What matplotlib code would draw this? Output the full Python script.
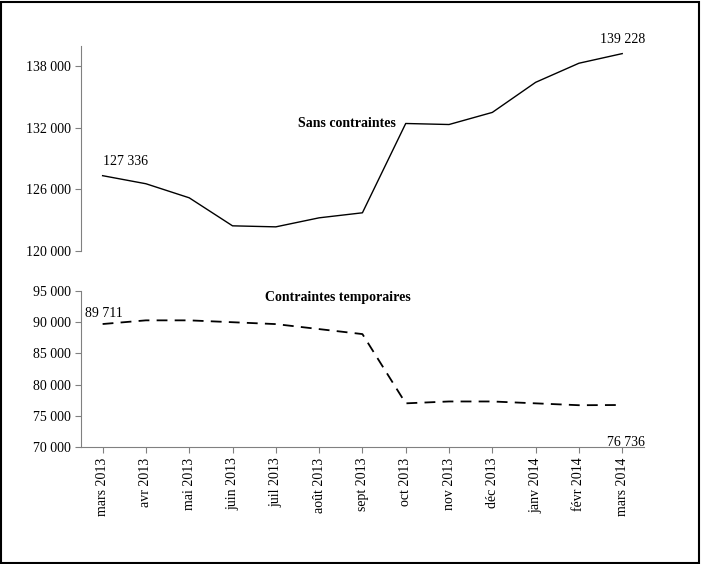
import matplotlib.pyplot as plt
from matplotlib.patches import Rectangle
from matplotlib.ticker import FuncFormatter

months = ["mars 2013", "avr 2013", "mai 2013", "juin 2013", "juil 2013", "août 2013",
          "sept 2013", "oct 2013", "nov 2013", "déc 2013", "janv 2014", "févr 2014", "mars 2014"]
sans = [127336, 126550, 125180, 122450, 122350, 123230, 123720,
        132420, 132320, 133500, 136430, 138290, 139228]
temp = [89711, 90300, 90300, 90000, 89700, 88900, 88100,
        77000, 77300, 77300, 77000, 76700, 76736]

plt.rcParams['font.family'] = ['Liberation Serif', 'DejaVu Serif']
fmt = FuncFormatter(lambda v, p: "{:,.0f}".format(v).replace(",", " "))

fig = plt.figure(figsize=(7.01, 5.64), dpi=100)
fig.patches.append(Rectangle((0.002, 0.002), 0.995, 0.995, transform=fig.transFigure,
                             fill=False, edgecolor="black", linewidth=1.5))

x = list(range(len(months)))
ax1 = fig.add_axes([0.1155, 0.555, 0.803, 0.364])
ax2 = fig.add_axes([0.1155, 0.2074, 0.803, 0.2766])

ax1.plot(x, sans, color="black", linewidth=1)
ax1.set_ylim(120000, 140000)
ax1.set_yticks([120000, 126000, 132000, 138000])
ax1.text(0, sans[0] + 700, "127 336", ha="left", va="bottom", fontsize=10)
ax1.text(12, sans[-1] + 700, "139 228", ha="center", va="bottom", fontsize=10)
ax1.text(5.65, 132400, "Sans contraintes", ha="center", va="center", fontsize=10, fontweight="bold")

ax2.plot(x, temp, color="black", linewidth=1.3, linestyle=(0, (6, 4)))
ax2.set_ylim(70000, 95000)
ax2.set_yticks(range(70000, 95001, 5000))
ax2.text(-0.4, temp[0] + 700, "89 711", ha="left", va="bottom", fontsize=10)
ax2.text(11.64, 70800, "76 736", ha="left", va="center", fontsize=10)
ax2.text(5.43, 94000, "Contraintes temporaires", ha="center", va="center", fontsize=10, fontweight="bold")
ax2.set_xticks(x)
ax2.set_xticklabels(months, rotation=90, fontsize=10)

for ax in (ax1, ax2):
    ax.set_xlim(-0.5, 12.5)
    ax.yaxis.set_major_formatter(fmt)
    ax.tick_params(axis="y", labelsize=10, color="gray", length=4)
    for s in ("top", "right"):
        ax.spines[s].set_visible(False)
    ax.spines["left"].set_color("gray")
    ax.spines["bottom"].set_color("gray")
ax1.spines["bottom"].set_visible(False)
ax1.set_xticks([])
ax2.tick_params(axis="x", color="gray", length=4)

fig.savefig("out.png", dpi=100)
